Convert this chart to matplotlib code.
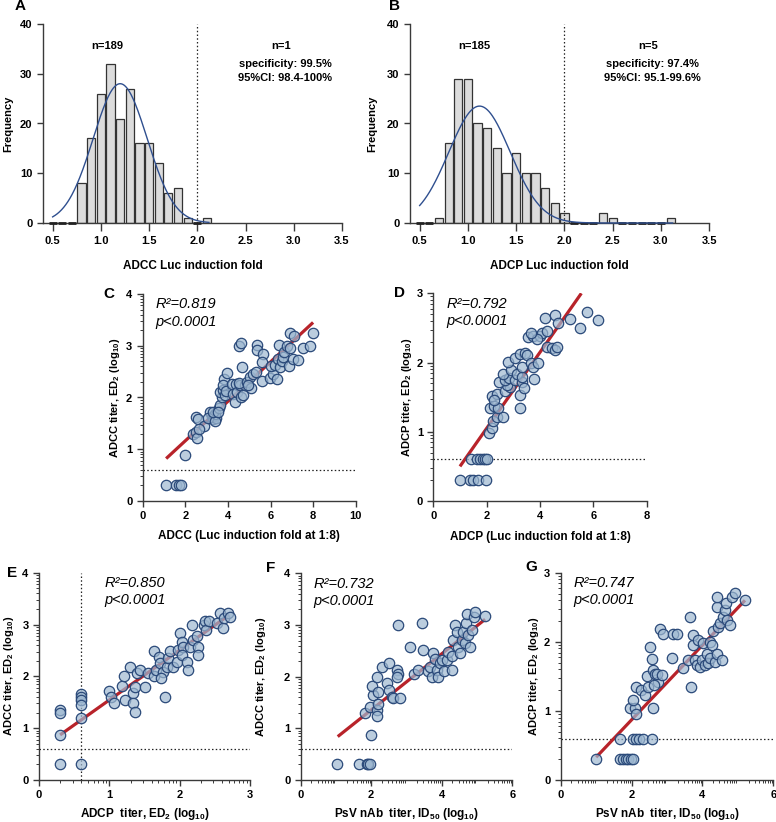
import numpy as np
import matplotlib
matplotlib.use("Agg")
import matplotlib.pyplot as plt

plt.rcParams['font.family'] = ['Liberation Sans', 'DejaVu Sans']
plt.rcParams['font.weight'] = 'bold'
plt.rcParams['axes.labelweight'] = 'bold'
plt.rcParams['mathtext.fontset'] = 'custom'
plt.rcParams['mathtext.rm'] = 'Liberation Sans:bold'
plt.rcParams['mathtext.bf'] = 'Liberation Sans:bold'
plt.rcParams['mathtext.it'] = 'Liberation Sans:italic:bold'

# ---- histogram data (bin centres and counts) ----
a_bins = [0.5, 0.6, 0.7, 0.8, 0.9, 1.0, 1.1, 1.2, 1.3, 1.4, 1.5, 1.6, 1.7, 1.8, 1.9, 2.0, 2.1]
a_counts = [0, 0, 0, 8, 17, 26, 32, 21, 27, 16, 16, 12, 6, 7, 1, 0, 1]
a_fit = dict(peak=28.0, mean=1.2, sd=0.28, lo=0.5, hi=2.12)

b_bins = [0.5, 0.6, 0.7, 0.8, 0.9, 1.0, 1.1, 1.2, 1.3, 1.4, 1.5, 1.6, 1.7, 1.8, 1.9, 2.0,
          2.1, 2.2, 2.3, 2.4, 2.5, 2.6, 2.7, 2.8, 2.9, 3.0, 3.1]
b_counts = [0, 0, 1, 16, 29, 29, 20, 19, 15, 10, 14, 10, 10, 7, 4, 2,
            0, 0, 0, 2, 1, 0, 0, 0, 0, 0, 1]
b_fit = dict(peak=23.5, mean=1.12, sd=0.318, lo=0.5, hi=3.12)

# ---- C: ADCC fold vs ADCC titer ----
c_x = [1.1, 1.55, 1.72, 1.78, 1.99, 2.35, 2.5, 2.53, 2.52, 2.61, 2.88, 2.65,
       3.16, 3.25, 3.3, 3.35, 3.45, 3.4, 3.05, 3.4, 3.3,
       3.6, 3.65, 3.55, 3.7, 3.62, 3.75, 3.88, 3.82, 3.78, 3.95, 3.9,
       4.2, 4.25, 4.35, 4.4, 4.45, 4.55, 4.6, 4.72, 4.8, 4.5,
       4.5, 4.6, 4.65, 4.9, 5.05, 5.2, 5.1, 4.95, 5.3,
       5.35, 5.38, 5.63, 5.59, 5.6, 5.98, 6.13, 6.29, 6.0,
       6.2, 6.35, 6.45, 6.52, 6.6, 6.4, 6.62, 6.76, 6.9,
       6.88, 7.07, 7.3, 6.9, 7.1, 7.54, 7.86, 8.0]
c_y = [0.3, 0.3, 0.3, 0.3, 0.88, 1.29, 1.34, 1.21, 1.63, 1.59, 1.45, 1.4,
       1.72, 1.62, 1.58, 1.65, 1.6, 1.68, 1.6, 1.55, 1.72,
       1.8, 1.86, 1.72, 2.0, 2.1, 2.15, 2.05, 2.36, 2.25, 2.48, 2.12,
       2.27, 2.07, 1.92, 2.27, 2.1, 2.25, 2.0, 2.05, 2.25, 2.28,
       3.0, 3.05, 2.59, 2.3, 2.4, 2.45, 2.18, 2.25, 2.5,
       3.01, 2.92, 2.85, 2.69, 2.32, 2.37, 2.45, 2.35, 2.6,
       2.62, 2.75, 2.58, 2.7, 2.78, 3.02, 2.88, 3.0, 2.95,
       2.6, 2.75, 2.72, 3.25, 3.18, 2.95, 2.99, 3.24]
c_fit_x = [1.1, 8.0]
c_fit_y = [0.82, 3.45]

# ---- D: ADCP fold vs ADCP titer ----
d_x = [1.0, 1.375, 1.5, 1.69, 1.975, 1.4, 1.65, 1.75, 1.85, 1.94, 2.02,
       2.1, 2.19, 2.25, 2.37, 2.6, 2.125, 2.27, 2.44, 3.25, 2.19, 2.37, 2.27,
       2.69, 2.875, 2.75, 3.25, 2.475, 2.69, 2.85, 3.06, 3.31, 3.4, 2.6, 2.9,
       3.15, 3.31, 3.79, 2.81, 3.06, 3.25, 3.44, 3.52, 3.31, 3.65, 3.75, 3.94,
       3.56, 3.725, 4.0, 4.06, 3.9, 4.25, 4.44, 4.56, 4.625, 4.18, 4.56, 4.68,
       5.14, 5.49, 5.75, 6.19, 4.27, 3.65]
d_y = [0.3, 0.3, 0.3, 0.3, 0.3, 0.6, 0.6, 0.6, 0.6, 0.6, 0.6,
       0.98, 1.05, 1.15, 1.22, 1.21, 1.34, 1.37, 1.35, 1.35, 1.52, 1.55, 1.46,
       1.59, 1.65, 1.68, 1.53, 1.72, 1.75, 1.77, 1.75, 1.72, 1.63, 1.84, 1.89,
       1.84, 1.79, 1.76, 2.01, 2.06, 2.13, 2.14, 2.11, 1.94, 1.99, 1.94, 1.99,
       2.37, 2.38, 2.38, 2.42, 2.34, 2.23, 2.21, 2.18, 2.23, 2.65, 2.69, 2.57,
       2.63, 2.5, 2.73, 2.61, 2.45, 2.42]
d_fit_x = [1.0, 5.55]
d_fit_y = [0.5, 3.0]

# ---- E: ADCP titer vs ADCC titer ----
e_x = [0.3, 0.3, 0.3, 0.3, 0.6, 0.6, 0.6, 0.6, 0.6, 0.6,
       0.99, 1.03, 1.06, 1.18, 1.22, 1.21, 1.29, 1.34, 1.34, 1.36, 1.37, 1.39,
       1.44, 1.51, 1.55, 1.63, 1.67, 1.63, 1.7, 1.72, 1.77, 1.79, 1.74, 1.82,
       1.84, 1.86, 1.91, 1.96, 1.98, 2.0, 2.03, 2.05, 2.03, 2.1, 2.12, 2.15,
       2.18, 2.19, 2.26, 2.24, 2.26, 2.34, 2.36, 2.38, 2.41, 2.53, 2.57, 2.62,
       2.63, 2.69, 2.72]
e_y = [1.35, 1.29, 0.86, 0.3, 1.65, 1.6, 1.55, 1.45, 1.2, 0.3,
       1.71, 1.61, 1.48, 1.81, 1.54, 2.0, 2.19, 1.67, 1.48, 1.32, 1.8, 2.06,
       2.12, 1.8, 2.06, 2.0, 2.12, 2.48, 2.38, 2.25, 2.09, 1.61, 1.96, 2.19,
       2.35, 2.48, 2.19, 2.28, 2.51, 2.83, 2.67, 2.57, 2.41, 2.28, 2.12, 2.57,
       2.99, 2.7, 2.57, 2.77, 2.41, 2.99, 3.06, 2.9, 3.06, 3.02, 3.22, 2.93,
       3.12, 3.22, 3.15]
e_fit_x = [0.3, 2.7]
e_fit_y = [0.87, 3.18]

# ---- F: PsV nAb titer vs ADCC titer ----
f_x = [1.02, 1.64, 1.87, 1.92, 1.97, 1.99, 1.82, 1.97, 2.06, 2.01, 2.15, 2.15,
       2.2, 2.2, 2.15, 2.3, 2.49, 2.44, 2.49, 2.58, 2.63, 2.72, 2.77, 2.82,
       2.77, 2.72, 3.1, 3.2, 3.34, 3.48, 3.43, 3.62, 3.67, 3.71, 3.76, 3.81,
       3.86, 3.9, 3.95, 4.0, 4.05, 4.14, 4.19, 4.28, 4.28, 4.33, 4.38, 4.42,
       4.47, 4.52, 4.57, 4.61, 4.66, 4.68, 4.71, 4.75, 4.8, 4.85, 4.9, 4.94,
       5.23]
f_y = [0.3, 0.3, 0.3, 0.3, 0.3, 0.88, 1.29, 1.42, 1.65, 1.81, 1.35, 1.23,
       1.48, 1.71, 2.0, 2.19, 2.26, 1.87, 1.74, 1.61, 1.58, 2.13, 2.06, 1.58,
       3.0, 2.0, 2.58, 2.06, 2.13, 2.52, 3.03, 2.1, 2.19, 2.0, 2.45, 2.35,
       2.13, 2.0, 2.26, 2.32, 2.1, 2.32, 2.48, 2.13, 2.39, 2.71, 3.0, 2.87,
       2.58, 2.45, 2.71, 2.87, 2.65, 3.03, 3.22, 2.81, 2.58, 2.9, 3.16, 3.26,
       3.17]
f_fit_x = [1.05, 5.23]
f_fit_y = [0.84, 3.11]

# ---- G: PsV nAb titer vs ADCP titer ----
g_x = [1.0, 1.67, 1.77, 1.84, 1.91, 1.98, 2.05, 1.66, 2.03, 2.13, 2.22, 2.31, 2.57,
       1.96, 2.1, 2.13, 2.05, 2.13, 2.26, 2.38, 2.47, 2.43, 2.52, 2.57, 2.6,
       2.66, 2.76, 2.63, 2.6, 2.71, 2.8, 2.85, 2.9, 3.13, 3.18, 3.27, 3.46,
       3.6, 3.68, 3.65, 3.73, 3.74, 3.79, 3.84, 3.87, 3.93, 3.98, 4.03, 4.07,
       4.12, 4.17, 4.21, 4.21, 4.26, 4.31, 4.36, 4.4, 4.4, 4.4, 4.45, 4.5,
       4.54, 4.59, 4.64, 4.67, 4.68, 4.78, 4.83, 4.92, 5.2]
g_y = [0.3, 0.3, 0.3, 0.3, 0.3, 0.3, 0.3, 0.6, 0.6, 0.6, 0.6, 0.6, 0.6,
       1.04, 1.04, 0.96, 1.16, 1.35, 1.3, 1.23, 1.35, 1.5, 1.93, 1.75, 1.59,
       1.54, 1.42, 1.37, 1.04, 1.54, 2.18, 1.52, 2.12, 1.76, 2.12, 2.12, 1.62,
       1.74, 1.35, 2.36, 1.95, 2.1, 1.74, 1.66, 2.03, 1.64, 1.74, 1.98, 1.66,
       1.83, 1.69, 2.0, 1.76, 1.95, 2.15, 1.71, 1.83, 2.51, 2.65, 2.22, 2.27,
       1.74, 2.36, 2.46, 2.56, 2.31, 2.24, 2.65, 2.7, 2.61]
g_fit_x = [1.0, 5.2]
g_fit_y = [0.33, 2.6]

W, H = 776, 822
fig = plt.figure(figsize=(W / 100, H / 100), dpi=100)
AX_COL = '#3a3a3a'


def box(l, r, t, b):
    return [l / W, 1 - b / H, (r - l) / W, (b - t) / H]


def style(ax, xlim, ylim, xticks, yticks, xminor=False, yminor=False, xfmt='{:g}'):
    ax.set_xlim(*xlim)
    ax.set_ylim(*ylim)
    for s in ['top', 'right']:
        ax.spines[s].set_visible(False)
    for s in ['left', 'bottom']:
        ax.spines[s].set_color(AX_COL)
        ax.spines[s].set_linewidth(1.0)
    ax.set_xticks(xticks)
    ax.set_xticklabels([xfmt.format(v) for v in xticks])
    ax.set_yticks(yticks)
    ax.set_yticklabels(['{:g}'.format(v) for v in yticks])
    ax.tick_params(which='major', length=4.5, width=1, color=AX_COL, labelsize=8, pad=3)
    ax.tick_params(which='minor', length=2.2, width=0.7, color=AX_COL)
    if xminor:
        ax.set_xticks([n + np.log10(k) for n in range(int(xlim[0]), int(xlim[1])) for k in range(2, 10)],
                      minor=True)
    if yminor:
        ax.set_yticks([n + np.log10(k) for n in range(int(ylim[0]), int(ylim[1])) for k in range(2, 10)],
                      minor=True)


def histogram(ax, bins, counts, fit, xlabel, n_left, n_right, spec, ci):
    bins = np.array(bins)
    counts = np.array(counts)
    nz = counts > 0
    ax.bar(bins[nz], counts[nz], width=0.085, color='#dcdcdc', edgecolor='#333333',
           linewidth=0.9, zorder=2)
    zb = bins[~nz]
    ax.hlines(np.zeros(len(zb)), zb - 0.042, zb + 0.042, colors='#222222', linewidth=2.0,
              zorder=3, clip_on=False)
    xs = np.linspace(fit['lo'], fit['hi'], 300)
    ax.plot(xs, fit['peak'] * np.exp(-(xs - fit['mean']) ** 2 / (2 * fit['sd'] ** 2)),
            color='#2f4f8f', linewidth=1.0, zorder=4, clip_on=False)
    ax.axvline(2.0, color='#222222', linestyle=(0, (1.2, 1.8)), linewidth=0.9)
    style(ax, (0.4, 3.5), (0, 40), [0.5, 1.0, 1.5, 2.0, 2.5, 3.0, 3.5], [0, 10, 20, 30, 40],
          xfmt='{:.1f}')
    ax.tick_params(axis='x', length=6, pad=3)
    ax.set_xlabel(xlabel, fontsize=8.5)
    ax.xaxis.set_label_coords(0.5, -0.186)
    ax.set_ylabel('Frequency', fontsize=8)
    ax.text(1.07, 35.6, n_left, ha='center', va='center', fontsize=8)
    ax.text(2.87, 35.6, n_right, ha='center', va='center', fontsize=8)
    ax.text(2.91, 32.0, spec, ha='center', va='center', fontsize=8)
    ax.text(2.91, 29.1, ci, ha='center', va='center', fontsize=8)


def scatter(ax, x, y, fx, fy, r2, r2pos):
    ax.plot(fx, fy, color='#b8232a', linewidth=2.3, solid_capstyle='butt', zorder=2)
    ax.scatter(x, y, s=56, facecolor=(0.62, 0.72, 0.82, 0.7), edgecolor='#2b4a7a',
               linewidth=0.9, zorder=3, clip_on=False)
    ax.axhline(0.6, color='#222222', linestyle=(0, (1.2, 1.8)), linewidth=0.9, zorder=1)
    ax.text(r2pos[0], r2pos[1], r2, ha='left', va='center', fontsize=10.5,
            fontstyle='italic', fontweight='normal', transform=ax.transAxes)
    ax.text(r2pos[0], r2pos[1] - 0.083, 'p<0.0001', ha='left', va='center', fontsize=10.5,
            fontstyle='italic', fontweight='normal', transform=ax.transAxes)


# A
axA = fig.add_axes(box(43, 342, 24, 223))
histogram(axA, a_bins, a_counts, a_fit, 'ADCC Luc induction fold', 'n=189', 'n=1',
          'specificity: 99.5%', '95%CI: 98.4-100%')
axA.yaxis.set_label_coords(-0.1, 0.5)

# B
axB = fig.add_axes(box(410, 709.3, 24, 223))
histogram(axB, b_bins, b_counts, b_fit, 'ADCP Luc induction fold', 'n=185', 'n=5',
          'specificity: 97.4%', '95%CI: 95.1-99.6%')
axB.yaxis.set_label_coords(-0.11, 0.5)

# C
axC = fig.add_axes(box(142.7, 355.7, 294, 501))
scatter(axC, c_x, c_y, c_fit_x, c_fit_y, 'R²=0.819', (0.06, 0.95))
style(axC, (0, 10), (0, 4), [0, 2, 4, 6, 8, 10], [0, 1, 2, 3, 4], yminor=True)
axC.set_xlabel('ADCC (Luc induction fold at 1:8)', fontsize=8.5)
axC.xaxis.set_label_coords(0.5, -0.14)
axC.set_ylabel('ADCC titer, ED$_2$ (log$_{10}$)', fontsize=8)
axC.yaxis.set_label_coords(-0.095, 0.5)

# D
axD = fig.add_axes(box(433.3, 646.7, 293.3, 501))
scatter(axD, d_x, d_y, d_fit_x, d_fit_y, 'R²=0.792', (0.06, 0.95))
style(axD, (0, 8), (0, 3), [0, 2, 4, 6, 8], [0, 1, 2, 3], yminor=True)
axD.set_xlabel('ADCP (Luc induction fold at 1:8)', fontsize=8.5)
axD.xaxis.set_label_coords(0.5, -0.145)
axD.set_ylabel('ADCP titer, ED$_2$ (log$_{10}$)', fontsize=8)
axD.yaxis.set_label_coords(-0.09, 0.5)

# E
axE = fig.add_axes(box(39, 250, 572.7, 780))
scatter(axE, e_x, e_y, e_fit_x, e_fit_y, 'R²=0.850', (0.31, 0.95))
axE.axvline(0.6, color='#222222', linestyle=(0, (1.2, 1.8)), linewidth=0.9, zorder=1)
style(axE, (0, 3), (0, 4), [0, 1, 2, 3], [0, 1, 2, 3, 4], xminor=True, yminor=True)
axE.set_xlabel('ADCP  titer, ED$_2$ (log$_{10}$)', fontsize=8.5)
axE.xaxis.set_label_coords(0.5, -0.125)
axE.set_ylabel('ADCC titer, ED$_2$ (log$_{10}$)', fontsize=8)
axE.yaxis.set_label_coords(-0.11, 0.5)

# F
axF = fig.add_axes(box(300.7, 512.3, 573.3, 780))
scatter(axF, f_x, f_y, f_fit_x, f_fit_y, 'R²=0.732', (0.06, 0.95))
style(axF, (0, 6), (0, 4), [0, 2, 4, 6], [0, 1, 2, 3, 4], xminor=True, yminor=True)
axF.set_xlabel('PsV nAb  titer, ID$_{50}$ (log$_{10}$)', fontsize=8.5)
axF.xaxis.set_label_coords(0.5, -0.125)
axF.set_ylabel('ADCC titer, ED$_2$ (log$_{10}$)', fontsize=8)
axF.yaxis.set_label_coords(-0.155, 0.5)

# G
axG = fig.add_axes(box(560.7, 773.3, 572.7, 780))
scatter(axG, g_x, g_y, g_fit_x, g_fit_y, 'R²=0.747', (0.06, 0.95))
style(axG, (0, 6), (0, 3), [0, 2, 4, 6], [0, 1, 2, 3], xminor=True, yminor=True)
axG.set_xlabel('PsV nAb  titer, ID$_{50}$ (log$_{10}$)', fontsize=8.5)
axG.xaxis.set_label_coords(0.5, -0.125)
axG.set_ylabel('ADCP titer, ED$_2$ (log$_{10}$)', fontsize=8)
axG.yaxis.set_label_coords(-0.095, 0.5)

# panel letters
for letter, px, py in [('A', 20, 6), ('B', 395, 6), ('C', 109, 294), ('D', 400, 293),
                       ('E', 12, 573), ('F', 271, 568), ('G', 531, 567)]:
    fig.text(px / W, 1 - py / H, letter, ha='center', va='center', fontsize=11)

fig.savefig('out.png', dpi=100)
